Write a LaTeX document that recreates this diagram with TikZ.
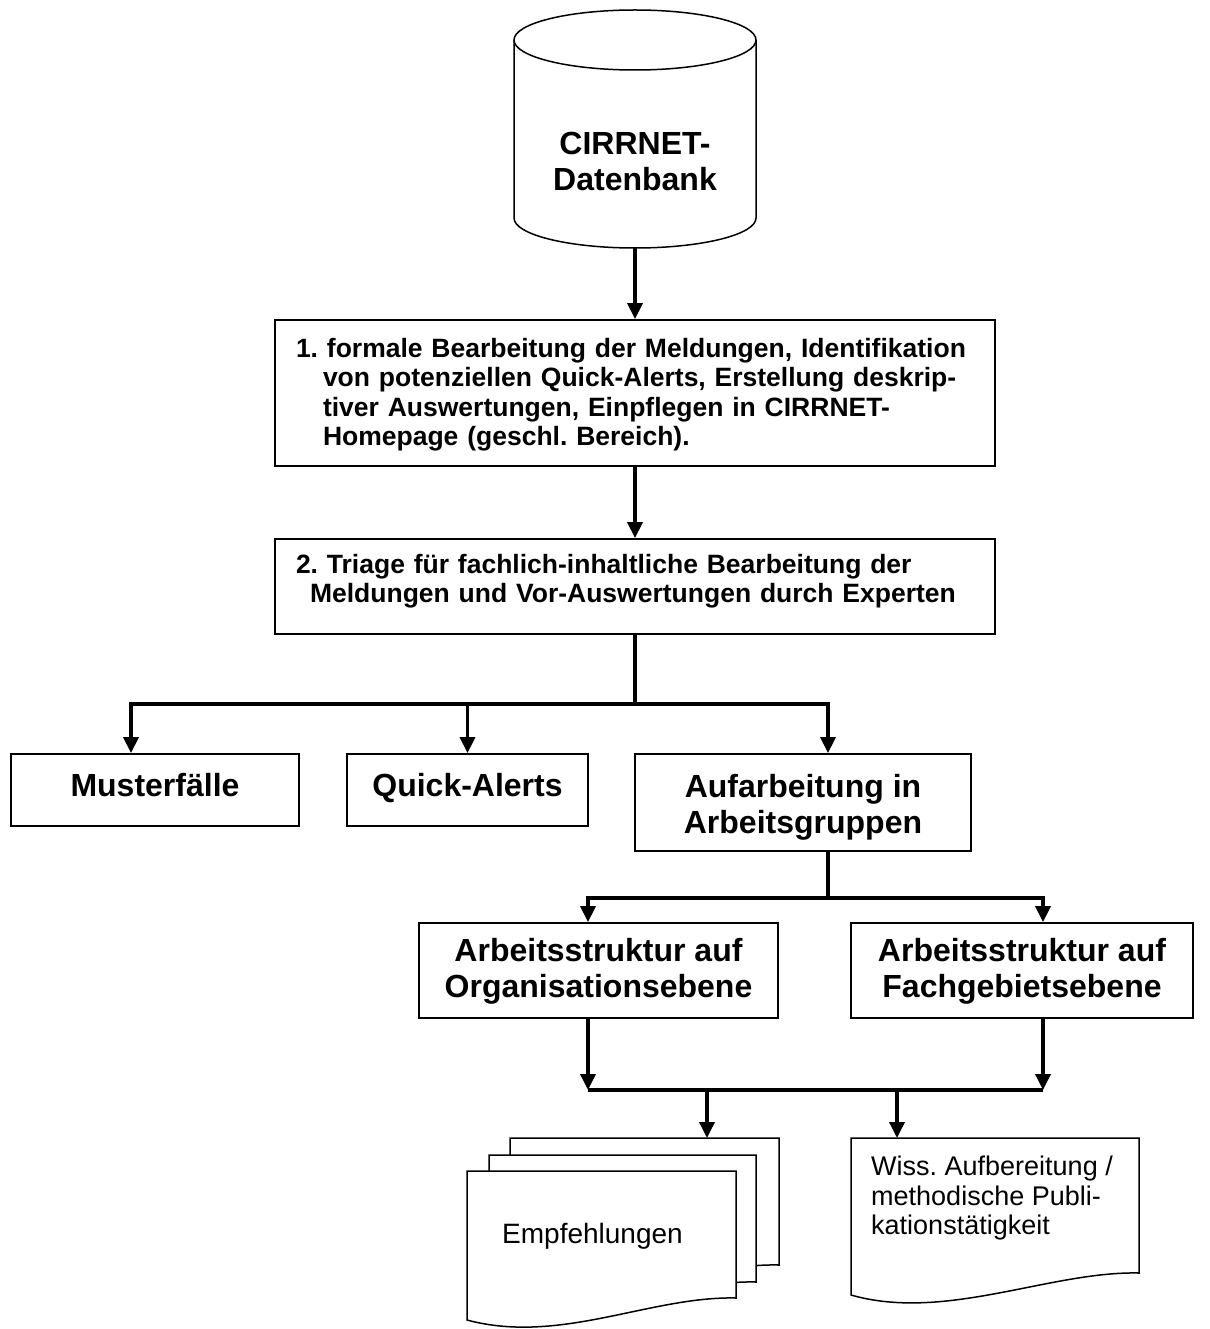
\documentclass[tikz,border=0pt]{standalone}
\usepackage{fontspec}
\setmainfont{Liberation Sans}
\usetikzlibrary{arrows.meta}
\frenchspacing

\begin{document}
\begin{tikzpicture}[x=1pt,y=1pt,
  box/.style={draw,line width=1.8pt,inner sep=0pt,font=\fontsize{32}{36}\selectfont\bfseries,align=center},
  stepbox/.style={draw,line width=1.8pt,inner xsep=21pt,inner ysep=0pt,font=\fontsize{26.5}{29.5}\selectfont\bfseries,align=left},
  conn/.style={line width=3.5pt},
  arrow/.style={line width=3.5pt,-{Triangle[width=15pt,length=16pt]}},
  page/.style={draw,line width=1.5pt,fill=white},
  doctext/.style={font=\fontsize{27}{29.5}\selectfont,inner sep=0pt}]
\useasboundingbox (0,0) rectangle (1209,-1329);
\draw[line width=1.5pt,fill=white] (514,-40) -- (514,-218) arc[start angle=180,end angle=360,x radius=121,y radius=30] -- (756,-40);
\draw[line width=1.5pt] (635,-40) ellipse[x radius=121,y radius=30];
\node (db) at (635,-161) [font=\fontsize{32}{36}\selectfont\bfseries,align=center] {CIRRNET-\\Datenbank};
\coordinate (db-bottom) at (635,-248);
\node (formal) at (635,-393) [stepbox,text width=678pt,text height=37pt,text depth=109pt] {1. formale Bearbeitung der Meldungen, Identifikation\\\hspace*{27pt}von potenziellen Quick-Alerts, Erstellung deskrip-\\\hspace*{27pt}tiver Auswertungen, Einpflegen in CIRRNET-\\\hspace*{27pt}Homepage (geschl. Bereich).};
\node (triage) at (635,-586.5) [stepbox,text width=678pt,text height=34pt,text depth=61pt] {2. Triage für fachlich-inhaltliche Bearbeitung der\\\hspace*{14pt}Meldungen und Vor-Auswertungen durch Experten};
\node (muster) at (155,-790) [box,minimum width=288pt,text height=42pt,text depth=30pt] {Musterfälle};
\node (quick) at (467.5,-790) [box,minimum width=241pt,text height=42pt,text depth=30pt] {Quick-Alerts};
\node (groups) at (803,-802.5) [box,minimum width=336pt,text height=79pt,text depth=18pt] {Aufarbeitung in\\Arbeitsgruppen};
\node (org) at (598.5,-970.5) [box,minimum width=359pt,text height=74pt,text depth=21pt] {Arbeitsstruktur auf\\Organisationsebene};
\node (fach) at (1022,-970.5) [box,minimum width=342pt,text height=74pt,text depth=21pt] {Arbeitsstruktur auf\\Fachgebietsebene};
\draw[page] (510,-1138) -- (779,-1138) -- (779,-1265) .. controls (693,-1263) and (603,-1312) .. (510,-1287) -- cycle;
\draw[page] (489,-1155) -- (756,-1155) -- (756,-1282) .. controls (670,-1280) and (582,-1329) .. (489,-1304) -- cycle;
\draw[page] (467,-1171) -- (736,-1171) -- (736,-1298) .. controls (650,-1296) and (560,-1345) .. (467,-1320) -- cycle;
\draw[page] (851,-1138) -- (1139,-1138) -- (1139,-1273) .. controls (1050,-1271) and (945,-1322) .. (851,-1295) -- cycle;
\node (recs) at (592.5,-1243) [doctext,font=\fontsize{28}{30}\selectfont,anchor=base] {Empfehlungen};
\node (wiss) at (871,-1156) [doctext,anchor=north west,align=left] {Wiss. Aufbereitung /\\methodische Publi-\\kationstätigkeit};
\coordinate (fork1) at (635,-704);
\coordinate (fork2) at (828,-898);
\coordinate (join-l) at (588,-1090);
\coordinate (join-r) at (1043,-1090);
\coordinate (recs-top) at (707,-1138);
\coordinate (wiss-top) at (897,-1138);
\draw[arrow] (db-bottom) -- (formal.north);
\draw[arrow] (formal.south) -- (triage.north);
\draw[conn] (triage.south) -- (fork1);
\draw[arrow] (fork1) -| ([xshift=-24pt]muster.north);
\draw[arrow] (fork1) -| (quick.north);
\draw[arrow] (fork1) -| ([xshift=25pt]groups.north);
\draw[conn] ([xshift=25pt]groups.south) -- (fork2);
\draw[arrow] (fork2) -| ([xshift=-10.5pt]org.north);
\draw[arrow] (fork2) -| ([xshift=21pt]fach.north);
\draw[arrow] (org.south -| join-l) -- (join-l);
\draw[arrow] (fach.south -| join-r) -- (join-r);
\draw[conn] (join-l) -- (join-r);
\draw[arrow] (join-l -| recs-top) -- (recs-top);
\draw[arrow] (join-l -| wiss-top) -- (wiss-top);
\end{tikzpicture}
\end{document}
